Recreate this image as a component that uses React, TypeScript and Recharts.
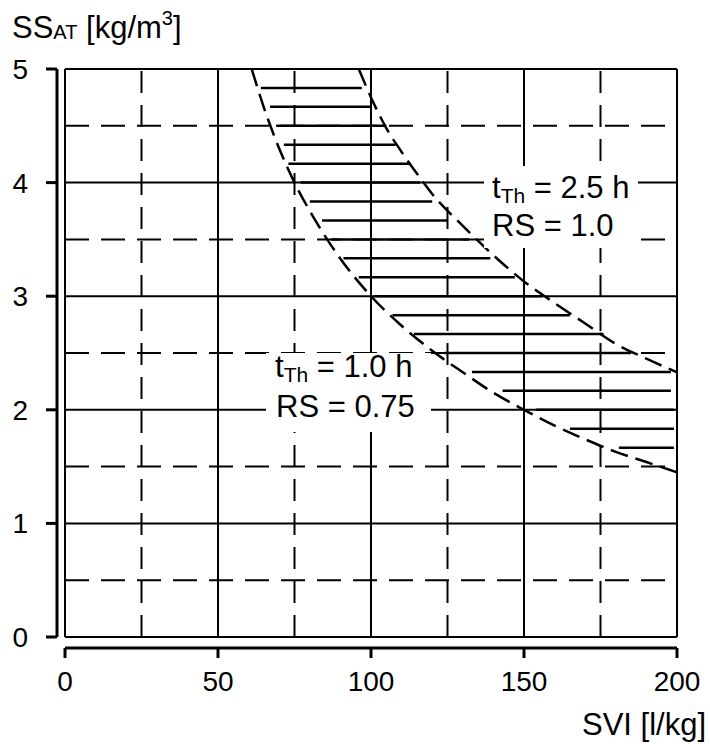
import React from 'react';
import { ComposedChart, Line, XAxis, YAxis, ReferenceLine } from 'recharts';

const FONT = '"Liberation Sans", Arial, Helvetica, sans-serif';

// axes
const xTicks = [0, 50, 100, 150, 200];
const yTicks = [0, 1, 2, 3, 4, 5];

// grid (frame lines included in the solid ones)
const gridSolidX = [0, 50, 100, 150, 200];
const gridDashedX = [25, 75, 125, 175];
const gridSolidY = [0, 1, 2, 3, 4, 5];
const gridDashedY = [0.5, 1.5, 2.5, 3.5, 4.5];

// t_Th = 2.5 h, RS = 1.0
const upperSvi = [96, 100, 105, 110, 115, 120, 130, 140, 150, 160, 170, 180, 190, 200];
const upperSs = [5.0, 4.75, 4.48, 4.27, 4.08, 3.9, 3.62, 3.36, 3.13, 2.94, 2.76, 2.58, 2.45, 2.33];

// t_Th = 1.0 h, RS = 0.75
const lowerSvi = [61, 65, 70, 75, 80, 90, 100, 110, 120, 130, 140, 150, 160, 170, 180, 190, 200];
const lowerSs = [5.0, 4.66, 4.3, 4.0, 3.75, 3.33, 3.0, 2.74, 2.52, 2.33, 2.15, 2.0, 1.86, 1.74, 1.63, 1.54, 1.45];

// hatching between the two curves
const hatchSs = [4.833, 4.667, 4.5, 4.333, 4.167, 4.0, 3.833, 3.667, 3.5, 3.333, 3.167, 3.0, 2.833, 2.667, 2.5, 2.333, 2.167, 2.0, 1.833, 1.667];
const hatchFrom = [64, 67, 69, 71.5, 73, 77, 80, 84, 87, 91, 96, 101, 107, 114, 124, 133, 143, 154, 165, 181];
const hatchTo = [97, 100, 105, 108, 113, 116, 120, 125, 132, 139, 147, 156, 165, 176, 185, 198, 198, 199, 199, 199];

const upperCurve = upperSvi.map((svi, i) => ({ svi, ss: upperSs[i] }));
const lowerCurve = lowerSvi.map((svi, i) => ({ svi, ss: lowerSs[i] }));

const ink = '#000';

export default function App() {
  return (
    <div style={{ position: 'absolute', left: 0, top: 0, width: 710, height: 744, background: '#fff', fontFamily: FONT }}>
      <ComposedChart width={710} height={744} margin={{ top: 69, right: 33, bottom: 26, left: 0 }}>
        {/* inner axes only make the gap between frame and drawn axes */}
        <XAxis xAxisId="inner" type="number" dataKey="svi" domain={[0, 200]} allowDataOverflow height={11} axisLine={false} tickLine={false} tick={false} />
        <XAxis
          xAxisId="outer"
          type="number"
          dataKey="svi"
          domain={[0, 200]}
          allowDataOverflow
          ticks={xTicks}
          height={70}
          axisLine={{ stroke: ink, strokeWidth: 3 }}
          tickLine={{ stroke: ink, strokeWidth: 3 }}
          tickSize={10}
          tickMargin={13}
          tick={{ fontSize: 28, fill: ink, fontFamily: FONT }}
        />
        <YAxis yAxisId="inner" type="number" dataKey="ss" domain={[0, 5]} allowDataOverflow width={8} axisLine={false} tickLine={false} tick={false} />
        <YAxis
          yAxisId="outer"
          type="number"
          dataKey="ss"
          domain={[0, 5]}
          allowDataOverflow
          ticks={yTicks}
          width={57}
          axisLine={{ stroke: ink, strokeWidth: 3 }}
          tickLine={{ stroke: ink, strokeWidth: 3 }}
          tickSize={11}
          tickMargin={18}
          tick={{ fontSize: 28, fill: ink, fontFamily: FONT }}
        />

        {gridDashedX.map((v) => (
          <ReferenceLine key={'dx' + v} xAxisId="inner" yAxisId="inner" x={v} stroke={ink} strokeWidth={2} strokeDasharray="22 12" />
        ))}
        {gridDashedY.map((v) => (
          <ReferenceLine key={'dy' + v} xAxisId="inner" yAxisId="inner" y={v} stroke={ink} strokeWidth={2} strokeDasharray="24 12" />
        ))}
        {gridSolidX.map((v) => (
          <ReferenceLine key={'sx' + v} xAxisId="inner" yAxisId="inner" x={v} stroke={ink} strokeWidth={2} />
        ))}
        {gridSolidY.map((v) => (
          <ReferenceLine key={'sy' + v} xAxisId="inner" yAxisId="inner" y={v} stroke={ink} strokeWidth={2} />
        ))}

        {hatchSs.map((ss, i) => (
          <ReferenceLine
            key={'h' + i}
            xAxisId="inner"
            yAxisId="inner"
            segment={[{ x: hatchFrom[i], y: ss }, { x: hatchTo[i], y: ss }]}
            stroke={ink}
            strokeWidth={2.5}
          />
        ))}

        <Line xAxisId="inner" yAxisId="inner" data={upperCurve} dataKey="ss" type="monotone" stroke={ink} strokeWidth={2.5} strokeDasharray="18 8" dot={false} activeDot={false} isAnimationActive={false} />
        <Line xAxisId="inner" yAxisId="inner" data={lowerCurve} dataKey="ss" type="monotone" stroke={ink} strokeWidth={2.5} strokeDasharray="18 8" dot={false} activeDot={false} isAnimationActive={false} />
      </ComposedChart>

      <svg width={710} height={744} style={{ position: 'absolute', left: 0, top: 0, pointerEvents: 'none' }}>
        <g fontFamily={FONT} fill={ink}>
          <text x={12} y={38} fontSize={31}>
            SS<tspan fontSize={20} dy={1}>AT</tspan>
            <tspan dy={-1}> [kg/m</tspan>
            <tspan fontSize={20} dy={-13}>3</tspan>
            <tspan dy={13}>]</tspan>
          </text>
          <text x={706} y={735} fontSize={31} textAnchor="end">SVI [l/kg]</text>

          <rect x={484} y={166} width={154} height={82} fill="#fff" />
          <text x={492} y={198} fontSize={31}>
            t<tspan fontSize={21} dy={5}>Th</tspan>
            <tspan dy={-5}> = 2.5 h</tspan>
          </text>
          <text x={492} y={236} fontSize={31}>RS = 1.0</text>

          <rect x={266} y={353} width={165} height={79} fill="#fff" />
          <text x={275} y={377} fontSize={31}>
            t<tspan fontSize={21} dy={5}>Th</tspan>
            <tspan dy={-5}> = 1.0 h</tspan>
          </text>
          <text x={276} y={417} fontSize={31}>RS = 0.75</text>
        </g>
      </svg>
    </div>
  );
}
